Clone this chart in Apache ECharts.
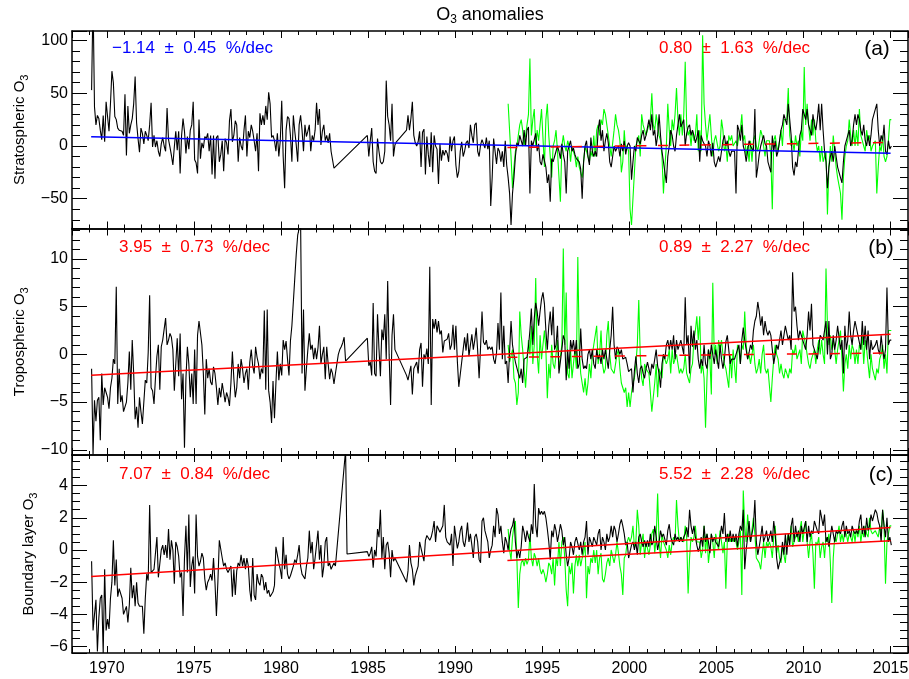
<!DOCTYPE html>
<html>
<head>
<meta charset="utf-8">
<title>O3 anomalies</title>
<script src="https://cdn.jsdelivr.net/npm/echarts@6.0.0/dist/echarts.min.js"></script>
<style>
    html, body { margin: 0; padding: 0; background: #fff; }
    #chart { width: 909px; height: 679px; }
</style>
</head>
<body>
<div id="chart"></div>
<script>
// 月距平数据：每行一年，12 个月
var N = null;
var blackStart = 1969;
var greenStart = 1993;

// (a) 平流层
var stratBlack = [
    [N, 53, 140, 37, 20, 29, 26, 15, 6, 29, 4, 42],
    [42, 14, 40, 71, 60, 28, 25, 17, 15, 14, 14, 10],
    [49, -9, 38, 12, 20, 26, 40, 66, 22, 7, -6, 17],
    [12, 2, 14, 10, 5, 20, 41, -1, 10, -1, 5, -5],
    [-10, 2, 8, 0, -5, 36, 6, -1, -9, -18, -1, 14],
    [-4, 14, -26, 10, 26, 14, -7, 9, -3, 15, 20, 42],
    [-13, -16, -26, 25, -12, 3, -2, 9, 7, 12, -5, 10],
    [-27, 10, -31, 8, 10, -15, -8, 5, -24, 7, 3, -8],
    [24, 35, 4, 10, 24, 20, -15, 8, 0, -4, 15, 29],
    [-10, 14, 8, 20, 14, 5, -5, 12, -24, 31, 20, 29],
    [20, 38, 25, 51, 40, 8, 10, 5, -5, 12, -10, 5],
    [43, -10, -40, 15, 28, 26, 10, -15, 29, 14, 1, -15],
    [20, 29, 15, -5, 20, 9, 14, 20, -5, 10, 5, 15],
    [41, 20, 35, 1, 14, 20, 5, 10, 3, 12, -5, -5],
    [-21, N, N, N, N, N, N, N, N, N, N, N],
    [N, N, N, N, N, N, N, N, N, N, N, 10],
    [-10, 5, 17, -15, -24, -26, 7, -5, -15, -17, -15, -5],
    [62, 28, 20, 5, 40, -10, 1, 4, N, N, N, N],
    [N, N, 15, 29, 15, 26, 42, 10, 3, 0, 4, 14],
    [-20, 13, 16, -27, 9, -8, -20, 13, -25, 10, 0, -3],
    [-36, 2, -14, -4, -9, -4, -7, -15, 9, -5, 5, 9],
    [-18, -30, -24, -5, 4, -10, -5, 3, 5, -2, 20, 10],
    [3, 20, 22, -5, -10, 1, 6, 5, -2, 8, -3, 5],
    [-57, -30, 7, -5, -17, -2, -5, -15, -5, -20, 5, -18],
    [-30, -45, -75, -45, -30, -10, 3, 0, 10, 5, 0, 15],
    [0, 15, 18, -45, 5, 0, 6, 12, -5, 2, -15, -18],
    [-8, -14, -20, -35, -27, -53, -12, -15, -10, -5, 0, -5],
    [-12, 2, -8, -15, -45, -5, 0, 5, -5, -2, -8, -12],
    [-12, -15, -22, -50, -15, 0, 5, -10, -18, 8, -5, -10],
    [-5, -10, 15, 25, 5, 15, -5, 5, 12, 3, -15, -20],
    [-20, 0, -5, -2, 0, -10, 2, -5, 5, -8, 0, 3],
    [0, -32, -15, 0, -5, 8, 5, 2, 10, 15, 5, 10],
    [10, 25, 15, 30, 10, 15, 0, 10, 30, 10, -5, -15],
    [-15, -35, -10, 0, 15, 10, 0, -5, 10, 20, 30, 18],
    [18, 25, 0, 12, 18, 20, 10, 15, 10, 3, 8, 15],
    [-15, 10, 5, 2, 0, -10, 5, 0, -10, 3, -15, -20],
    [-20, -10, -15, -5, 5, 10, 0, 5, -5, -10, -5, -5],
    [-5, -45, 20, 15, 5, 20, 0, -5, -15, -5, 5, 0],
    [0, -5, 35, -30, -20, -8, 0, 5, 10, 2, 0, -15],
    [-15, -25, 10, -5, 5, -10, -5, 5, 15, 20, 30, 25],
    [20, 40, 25, 10, -20, -28, -15, -20, -5, 10, 15, 35],
    [35, 25, 35, 20, 15, 10, 30, 20, 15, 25, 40, 15],
    [40, 15, -5, -15, -40, -20, -10, -5, -15, 0, -10, -20],
    [-20, -30, -35, -15, 0, 5, 10, 15, 0, 5, 20, 30],
    [20, 30, 25, 15, 10, 20, 5, 0, 10, 0, 10, 25],
    [25, 35, 40, 15, 0, 10, 5, 20, -5, -8, 5, -3],
    [0]
];
var stratGreen = [
    [40, 15, -10, -40, -20, -5, 0, 10, 20, 25, 15, 0],
    [0, 20, 30, 83, 10, 25, 35, 0, 15, 5, 20, 35],
    [35, -20, 25, 40, 10, -10, -30, 0, 5, 15, -5, -5],
    [-53, 0, 10, 0, -5, 5, 0, -15, 0, -5, -10, -20],
    [-10, -20, -25, -30, -15, 0, -5, -10, -15, -5, -10, 10],
    [-10, 15, 20, 10, 25, 20, 35, 30, 20, 10, 0, -10],
    [-10, 15, 30, 20, 15, 5, -25, -15, 15, -5, 0, -5],
    [-60, -75, -50, -25, 0, 5, 10, -10, 30, 20, 15, 10],
    [10, 20, 25, 50, 20, 15, 30, 20, 10, 5, -10, -45],
    [-20, 0, 40, 15, 0, 25, 15, 30, 55, 25, 10, 30],
    [10, 30, 80, 20, 10, 15, 0, 15, 5, 10, 30, -5],
    [15, -5, 105, 40, 20, 5, 5, 30, 10, -10, 5, 10],
    [10, -5, 0, 25, 15, -5, 0, -15, 10, 5, 10, 0],
    [0, 5, 0, 10, 15, 30, 5, 10, -10, 0, -15, 5],
    [-15, 5, 10, 0, -5, 5, 15, 10, 0, -10, 5, 5],
    [5, -10, -60, 5, 10, 0, -5, 5, 15, 0, 25, 25],
    [25, 55, 10, 0, 5, -5, 10, 0, 5, -10, 15, 5],
    [75, 20, 40, 20, 5, 25, 10, 25, 5, -5, 0, -15],
    [0, -15, -10, -5, -65, -20, 0, -15, 10, -5, -20, -30],
    [-30, -45, -70, -30, -10, 0, 5, 25, 10, 0, 15, 0],
    [15, 0, 35, 10, 5, 0, -5, 15, 5, 10, -5, 0],
    [0, 5, -45, -20, 0, -5, 10, -10, -15, -10, 5, 25],
    [25]
];

// (b) 对流层
var tropBlack = [
    [N, -1.5, -10.5, -4.8, -7, -4.8, -4.5, -9, -2, -5.3, -3.5, -4],
    [-4.5, -5.7, -3.5, -2.5, -0.5, -1, 7.1, -5.2, -1.5, -5, -4.3, -6],
    [-5.5, -5, -3, 0.3, -3.7, 1.5, -2, -6.8, -5.5, -7.7, -4.5, -6],
    [-7.3, -5, -2.7, -3, 0.2, 6.2, -3.5, -3.8, -5.2, -2.5, -0.2, 1],
    [-3.7, 0.8, 1.5, 1.3, 3.8, 1, 1.5, 2.2, 1.8, 0.5, -3.8, -1],
    [1.7, -2.3, 2.2, -4.7, -2, -9.8, -2.5, 0.8, -1, -4.5, -2, -5.2],
    [0.5, -5.2, 2, 3.5, 3.4, 1, -2, -6.3, -0.5, -2.5, -1.5, -2.9],
    [-3.2, -1.3, -2, -3.5, -5.3, -3.5, -4.5, -3, -4, -5, -4, -4.5],
    [-5.4, -3, 0.3, -2.5, -4.5, -3.5, -1, -2.5, -0.5, -1.5, -3, -2],
    [-1.5, -3.7, -0.8, 0.5, -1.2, -2, 0.8, -0.3, -1, -2.6, -1.5, -2],
    [4.6, -3.7, 4.7, -3.8, -5, -7.2, -2.8, -6.7, -3, 0.3, -2.7, -1],
    [-2.2, 1.5, 0.5, 1.4, -0.5, -2.2, 1.4, 3, 5.5, 8, 10.5, 12.5],
    [13.2, 14, -2, 4.7, -3.8, -1.5, 0.5, 2.2, 0.5, 1, -0.5, 0.7],
    [-0.5, 0.7, 3, -1, 0, 0.8, -2.6, 0.8, -1, -2.6, -1.5, -2],
    [-3.1, -2, -1, 0, 0.5, 0.8, 1.2, 1.8, -0.7, N, N, N],
    [N, N, N, N, N, N, N, N, N, N, N, 1.7],
    [-1.2, -0.8, -2.2, 5.4, -2, -2.3, 4.2, 0.6, -2.3, 2.6, 1.5, 4.2],
    [-0.5, 7.7, 0, -5.3, 2, 4.2, 0.5, N, N, N, N, N],
    [N, N, -2.2, -2.7, -2.5, -1.2, -4.2, -1.5, -1.3, -0.8, -2, 0.5],
    [1.2, -3.4, 0, -0.5, 0.6, -1, 9.2, -5.3, 3.7, 2.7, 3.7, 2.3],
    [3.5, 2.1, 2.5, 0.2, 1.4, 1.2, 1.6, 2.2, 0.5, 1, 3.1, 0.5],
    [3, -0.7, -3.4, -3.3, -0.8, 0.5, 1.8, 0.4, 2.2, -0.2, 1, 2.1],
    [0.5, 1.5, 2.8, 0.4, -2.5, 0.8, 4.5, 1.3, 1, 1.5, 0.5, 0.8],
    [0.5, 0.8, -0.5, -1, 0.2, 3.3, 0.5, 6.5, -0.5, 3, -1, -0.7],
    [-3, 0.3, 3.5, 1, 0, -0.8, -1, -2, -2.5, -1.5, -3, -0.5],
    [-0.5, -0.3, 0.8, 2.5, 4.8, 1, 3.8, 5.4, 4.5, 3, 4.5, 5.8],
    [6.5, 5.3, 2.5, 0.5, 3, 4.5, 2, 5, 0.5, 1, 3, -2],
    [-2, 0.5, 2, 1.5, -2.7, 0.5, -1.5, 1.5, 0.5, 1.5, 0, 1.5],
    [-1.5, -1, 2.7, -0.5, -1.5, -1.2, -1.5, 0, 0.5, -0.5, 0.5, -1],
    [-1.5, 0.5, -0.5, 0, -1, 0.5, -0.5, 0.5, -0.5, -1.5, 0.5, 2],
    [5, 1, -0.5, 0.8, 0.5, 0, 0.5, -0.5, -0.5, -0.3, -1, -1.8],
    [-1.8, -1.5, -4, -1.7, -0.2, -2, -3, -1.5, -1.2, -2, -2.5, -1.5],
    [-0.8, -1, -2.2, -1, -1.5, -0.5, 0.5, -1.2, -2, -3.5, -1, 0],
    [-0.5, 1, 1.5, 0.5, 1.5, 0.5, 2, -0.5, 1.5, 0.5, 1, 1.5],
    [1.5, 0, 6, 1, 2, -2, 3, 0.8, 2.5, 0.5, 1.5, -0.5],
    [-1.5, -0.5, -1.2, 1, -1, -1.5, 0.5, -0.5, 1, 0, -1, 0.5],
    [-0.5, -1.5, 1, -0.5, -1.5, -0.5, 1.3, 2, 0.5, -1, -0.5, -0.5],
    [-0.5, 0, 0.5, 1, -1, 1.5, 2.8, 1.5, 0.5, -0.5, 0.2, 1],
    [0.5, 2.5, 3.5, 4, 5.5, 4.5, 3, 4, 2, 3.5, 2.5, 2],
    [2.5, 2, 0.5, -1, 0, 1, 0.5, 1.5, 2.5, 1, 2, 3],
    [3, 1.5, 2, 0.5, 8.6, 4.5, 5, 3, 1.5, 2.5, 2, 1.5],
    [1, 0.5, 2, 4.5, 2.5, 5.3, 1, 0.5, 0.5, -0.5, 0.8, 2],
    [2, 1.5, 1.5, 3.5, 0, 3.5, -0.5, 0, 2, 0.5, 1.5, 3],
    [3, 0.5, 1.5, -2, 3, 0.5, 1.5, 4.5, 2, 1, 2.5, 3.5],
    [3.5, 2, 2, 0.5, 3.5, 1, 3, 0.5, 2.5, -0.5, 1.5, 0.5],
    [0.5, 1, 1.5, 0.5, 0, 2, 0.5, -0.5, 0.5, 7, 1, 1.5],
    [1.5]
];
var tropGreen = [
    [1, -0.8, -1, 0.5, -2.5, -3, -5.3, -4, 4.5, 2, 0.5, -1.5],
    [-3.5, -1, 1.5, 0, 3, -1, 1, 8, 0, -2, 2, -0.5],
    [-0.5, 2.5, 0.5, -4.6, -1, -2.5, 1, -1, -1.5, 0, 1.5, -1.5],
    [-1.5, 1, 11.1, 1, 6.5, -2, -2.5, 0.5, -2.5, -1, 0.5, -1.5],
    [10.2, 0.5, -2, -3, -4, -2.5, -4.3, -3, -1, -2.5, 0, 1],
    [1, 3, -1, 0, 2.5, -1, -2, -1.5, 2, 3.5, 0, -1.5],
    [-1.5, -2, -1, 0, 0.5, -1.5, -3, -3.5, -4, -3.5, -5.5, -4],
    [-5.5, -4, -3, -2.5, -1, 1, 5.7, 0, -2.5, -3.3, -1, -1.5],
    [-1.5, -2, -4, -6, -4.5, -3, -1, -4.5, -1.5, -2, -2.5, 0],
    [0, -1, -0.5, 0.5, -2, 0.5, -1, -0.5, 0, -1, -2, -1.5],
    [-2, -1.5, 0, -2, -2.5, -3, -1.5, -1, 1.5, 2.5, 4, 1.5],
    [4, -2, -1, -2.5, -7.7, -2.5, 0.5, -0.5, -4.2, 7.5, 0, 1],
    [-1, 1.5, 0.5, 1.5, 0, -1, -1.5, -1.5, -3.5, 0, -2.5, 0.5],
    [0.5, -3, 1, 0.5, -1, 1, 0.5, 4.5, 1, -0.5, 0, -1],
    [-1, 1, -1, -2, -1.5, -0.5, -2, 0, 1, -1.5, -2, -1.5],
    [-1.5, -5, -2.5, -0.5, 1, 0, -0.5, -2, -1, -2, -2.5, -1.5],
    [-2, -2.5, -1.5, -2, 0.5, 0, 1, -0.5, 0, 0.5, -1, 2.5],
    [2.5, 1, 0, -1, -1.5, -0.5, 0, 0.5, -1, 0.5, 1.5, 0],
    [1.5, 0, -1, 9, 3, 1, 2, 0.5, 1.5, 0.5, -1, 0.5],
    [0.5, 2.5, -0.5, -3.9, -1, 0, -1.5, 1, -0.5, 1, 0.5, -1],
    [0.5, -1, 1, 0.5, 2, -1, 1.5, 0.5, -1, -2.5, 0, -1.5],
    [-1.5, -2.7, -1.5, -2, -0.5, 0, 1, -1.5, 0, -2, 2.5, 2.5],
    [2.5]
];

// (c) 边界层
var blBlack = [
    [N, -0.7, -5, -4, -3.1, -6.3, -4.2, -3, -2.8, -6.4, -1.2, -5],
    [-4.3, -4.9, -3, -2, 0.6, -2.2, -0.6, -2.9, -2.4, -2.5, -3, -4],
    [-4, -3.5, -4.5, -3.4, -1.1, -3, -2.2, -3.5, -2, -3.3, -3.5, -3.5],
    [-3.5, -5.2, -3, -1.5, -1.9, 2.8, -1.4, -1.5, -1.2, -0.2, 0.8, -1.7],
    [-1.7, 0, 0.3, -0.3, 0.3, -0.5, 1.3, -0.6, 0.6, 0, -2.1, 0.5],
    [0.2, -0.4, -1.7, -1.4, -4.1, -0.5, 1.5, -1.4, 2.2, -2.3, -1, -0.4],
    [-2.7, 2.2, -0.4, -1, -0.7, -0.2, -0.5, -1.8, -2.5, -2, -1.8, -1.5],
    [-1.9, -0.5, -2, -4.1, -2, 0.6, 0.5, -0.5, -1, -0.8, -1.2, -1.4],
    [-1.5, -1, -2.9, -1.2, -2.8, -1.3, -0.8, -1, -0.3, -1, -0.5, -1.2],
    [-0.5, -1, -2.5, -3.2, -0.5, -2.8, -3.1, -1.5, -2, -2.2, -1.5, -1.7],
    [-2.5, -2, -2.7, -2.5, -2.9, -2.8, -2.6, -2.2, 0.2, -0.3, -0.8, -1.2],
    [-1.8, 0.8, -1.2, -0.3, -1.5, -1.8, -1.6, -1.5, -1, -0.6, -0.8, -0.3],
    [0.3, -1, -1.5, -1.4, -1.8, -1, -0.5, 1.2, -0.2, 0.5, -1.2, -0.5],
    [-0.5, 1.2, -0.6, 0.3, -1.7, -1, 0.5, 0.8, -1, -0.8, -1.2, -1],
    [-0.8, -1, N, N, N, N, N, N, 6.2, -0.25, N, N],
    [N, N, N, N, N, N, N, N, N, N, N, -0.1],
    [-0.4, -0.2, 0.2, -1.1, 0, -0.4, 1.3, 0.8, 2.5, -0.5, 0.8, -1.2],
    [0.3, 0.5, -0.2, -1.7, 0, -0.7, -0.5, N, N, N, N, N],
    [N, N, -2, -1.3, 0.3, -0.8, -1.2, -2.2, -1.6, -1.5, -1, 0.5],
    [0.4, -0.3, -0.7, 0.6, 0.9, 1, 0.6, 0.8, 1.2, 1.8, 0.5, 1.5],
    [1.5, 1.1, 1.2, 1.5, 2.8, 0.8, 0.5, 0.6, 0.3, 1, -1, 1.5],
    [0.8, 0.1, 0.5, 1.2, 1.5, 0.5, 0.2, 0.8, 1.7, 0.5, 1, 0.3],
    [-0.5, 0.8, 1, 0.5, -0.6, -0.8, 1.8, 2, 1.2, 1.3, 0.5, -0.5],
    [0, 0.3, 1.5, 0.8, 2.6, 2.2, 1, 1.5, 0.5, -0.2, 0.8, 0.5],
    [0, 0.8, 1.3, 1.5, 2, 0.5, -0.5, 0, -0.5, 0.2, 1.5, 1.1],
    [0.5, 1.2, 0.8, 0.5, 1.6, 1, 4.1, 1.5, 0.8, 2.6, 2.2, 2.4],
    [2.2, 2.4, 2, 1.3, 0.5, -0.6, 1.2, 0.8, 1.6, 1.2, 0.5, 1],
    [1.6, 1.2, 0.3, 0.8, -0.3, -1, -0.5, 0.5, 0.2, -0.3, 0.5, 0.8],
    [0.8, 0, 0.5, -0.3, 0.5, 0.8, 1.8, -0.3, 0.8, 0.5, 0.2, 0.8],
    [0.8, 0.3, 1, 1.3, 0, 0.8, 0.5, 0, 1, 0.5, 0.8, 1.5],
    [0.8, 1.5, 1.2, 0.5, 1, 1.6, 1.9, 1.5, 1, 0.3, 0.5, -0.5],
    [-0.5, 0.3, 0.5, 0, 0.5, -0.3, 0.8, 1, 0.5, 0.2, 0.6, 0.2],
    [0.6, 0.2, 1, 0.3, 0.5, 1.5, 0.8, 0, 0.5, 1.2, 0.8, 1],
    [1, 0.3, 1.2, 1.6, 0.8, 0.5, 0.3, 1, 0.6, 0.8, 0.5, 0.8],
    [0.5, 0.8, 1, 1.4, 0.8, 2.5, 1.5, 1, 1.5, 0.8, 0.3, -0.1],
    [0.2, 0.8, 0.2, 1.5, 0.5, 1, 0.5, -0.2, 1, 0.5, 0.8, 0.5],
    [0.5, 0.2, 0.8, 1.5, 1, 2.3, 0.5, 1, 0.5, 1.2, 0.5, 1],
    [0.5, 1, 0.2, 1, 1.5, 1.2, 2.5, -1.2, 0, 0.8, 1.8, 0.5],
    [1, 1.5, 3.1, 0.5, -0.3, 0.2, 0.8, 1.5, 0.5, 0.8, 1.2, 0.5],
    [0.8, 1.2, 0.5, 1.8, 1, -0.5, -1.2, -0.8, -0.5, 0.5, -0.3, 1],
    [-0.3, 1, 0.3, 1.5, 2, 0.5, 1.5, 0.8, 1.2, 0.5, 1.5, 1],
    [1, 1.8, 0.5, 1.5, 0.8, 1.2, 1, 1.8, 1.5, 1.2, 1, 2.5],
    [2.5, 1.5, 2.2, 0.5, 0.8, 0.2, 0.8, 1.5, 1, 0.5, 1.2, 1],
    [1.2, 1, 1.5, 1.8, 0.8, 1.5, 1, 1.2, 0.8, 1.5, 1.2, 1],
    [1.2, 1, 1.8, 2.2, 1, 1.5, 0.8, 2, 1.2, 1.5, 2.2, 1.8],
    [1.8, 2.5, 2.3, 1.8, 1.5, 0.5, 2.5, 1.5, 0.8, 2, 0.5, 0.8],
    [0.3]
];
var blGreen = [
    [1.3, 0, -0.6, 0.8, 1.5, 1.8, -0.5, -3.6, -1.5, -0.8, -0.6, -1],
    [-0.5, -0.9, -0.6, 1, -0.5, -1, -0.2, -0.5, -1, -0.5, -1.2, -1.5],
    [-1.2, -1.5, -2, -1.5, -0.8, -1, -1.5, -0.5, -2.2, -0.5, -1, 0.5],
    [-1, 0.5, 0.8, -0.5, -2.5, -3.5, -1, -1.5, -0.8, -2.7, -1, -0.3],
    [-1, -0.3, -1, -0.5, -0.2, 0.5, -3, -1, -1.5, -0.5, -0.8, 0],
    [-0.8, 0, -1.5, -0.5, -0.2, -1.8, -2, -1.5, -0.8, -0.5, -1, 0],
    [0, -0.8, -0.3, 0.5, -0.2, -1, -1.5, -2.8, -0.5, -0.3, 0.5, 0.8],
    [0.5, 0.8, 1.5, 0.2, 0.5, 2.5, 1.5, -0.3, 0.5, 1, -0.5, 0.5],
    [0.5, -0.3, 0.3, 1, 1.3, -0.2, 0.8, 3.5, 0.5, -0.5, 1, 0.5],
    [0.5, 0, -0.5, 0.3, -0.3, 0.5, 0.8, 0.5, 3.1, 1.5, 0.5, 0.8],
    [0.8, 0.5, 1.5, 0.8, -2.7, -0.5, 0.8, 0.5, 0.8, 1.5, 0.5, 0.5],
    [0.5, -0.5, 0, 1.5, -0.2, 1, -0.8, 0, 1, 0.5, -0.5, 1],
    [1, 0, 1.2, 0.5, -0.2, 0.5, -2.4, 0.5, 1, 0.5, 0.8, 0.5],
    [0.8, 0.5, 0, 0.5, 1.2, -2.8, 3.7, 1.5, 0.5, 2.2, 1, 0.5],
    [0.5, 2, 1, -0.5, -0.5, -0.8, -1.2, -0.3, 0.5, -0.5, 0.5, 0.2],
    [0.5, 0.2, -0.5, 0.8, 1.5, -0.2, 0.3, -0.5, -0.8, 0.2, -0.3, -0.8],
    [0.5, 1, 0.5, 1.5, 0.2, 0.5, 0.8, 1, 0.5, 1.2, 1.8, 0.5],
    [1.2, 1.8, 0.5, -0.5, 0.5, 1, -0.2, -2.4, 0.5, 0.3, 0.8, -0.5],
    [0.2, 0.5, -0.5, 0.8, 0.5, 1, -0.8, -3.3, -0.5, 0.8, 0.5, 1],
    [1.5, 0.5, 1, 0.5, 1.2, 1, 0.5, 1, 0.8, 0.5, 1.2, 0.5],
    [1.3, 0.8, 1.5, 0.5, 1.2, 0.8, 1.5, 1, 0.8, 2, 1.2, 1],
    [1, 1.2, 1, 0.8, 1.5, 1, 2.5, 1.5, -2.1, 0.5, 1, 1.5],
    [1.5]
];

// 线性趋势线端点
var blackTrendYears = [1969.1, 2015.0];
var greenTrendYears = [1993.0, 2015.0];
var stratTrend = [8.8, -7.0], stratGreenTrend = [-1.5, 3.4];
var tropTrend = [-2.2, 2.1], tropGreenTrend = [-0.3, 0.15];
var blTrend = [-1.65, 1.4], blGreenTrend = [-0.66, 0.58];

// 趋势文字
var trendLabels = [
    ["\u22121.14  \u00b1  0.45  %/dec", "0.80  \u00b1  1.63  %/dec", "(a)"],
    ["3.95  \u00b1  0.73  %/dec", "0.89  \u00b1  2.27  %/dec", "(b)"],
    ["7.07  \u00b1  0.84  %/dec", "5.52  \u00b1  2.28  %/dec", "(c)"]
];
var yTitles = ["Stratospheric O", "Tropospheric O", "Boundary layer O"];

var FONT = "Liberation Sans";

function toPoints(rows, startYear) {
    var pts = [];
    rows.forEach(function (row, i) {
        row.forEach(function (v, m) {
            pts.push([startYear + i + (m + 0.5) / 12, v]);
        });
    });
    return pts;
}

function trendPoints(years, vals) {
    return [[years[0], vals[0]], [years[1], vals[1]]];
}

var panels = [
    {top: 31, height: 197.5, min: -78.3, max: 109.1, split: 4, minor: 5,
        black: stratBlack, green: stratGreen, tb: stratTrend, tg: stratGreenTrend,
        tbColor: "#0000ff", tgDash: true, textY: 48.5, leftX: 112, leftColor: "#0000ff", tagX: 877, titleX: 20},
    {top: 228.5, height: 226.5, min: -10.55, max: 13.2, split: 4, minor: 5,
        black: tropBlack, green: tropGreen, tb: tropTrend, tg: tropGreenTrend,
        tbColor: "#ff0000", tgDash: true, textY: 247, leftX: 119, leftColor: "#ff0000", tagX: 881, titleX: 20},
    {top: 455, height: 198, min: -6.4, max: 5.9, split: 6, minor: 4,
        black: blBlack, green: blGreen, tb: blTrend, tg: blGreenTrend,
        tbColor: "#ff0000", tgDash: false, textY: 474, leftX: 119, leftColor: "#ff0000", tagX: 881, titleX: 29}
];

var axisLineStyle = {color: "#000", width: 1.5};
var tickStyle = {color: "#000", width: 1};

function minusFmt(v) {
    return String(v).replace("-", "\u2212");
}

function yearFmt(v) {
    return String(Math.round(v));
}

var grids = [], xAxes = [], yAxes = [], series = [], graphics = [];

panels.forEach(function (p, i) {
    grids.push({left: 72, right: 1, top: p.top, height: p.height, containLabel: false, outerBoundsMode: "none"});
    ["bottom", "top"].forEach(function (pos) {
        xAxes.push({
            type: "value", gridIndex: i, position: pos, min: 1968, max: 2016, splitNumber: 10,
            axisLine: {show: true, onZero: false, lineStyle: axisLineStyle},
            axisTick: {show: true, inside: true, length: 7, lineStyle: tickStyle},
            minorTick: {show: true, splitNumber: 5, length: 4, lineStyle: tickStyle},
            splitLine: {show: false},
            axisLabel: {
                show: (i === 2 && pos === "bottom"), showMinLabel: false, showMaxLabel: false,
                color: "#000", fontFamily: FONT, fontSize: 16, margin: 8, formatter: yearFmt
            }
        });
    });
    ["left", "right"].forEach(function (pos) {
        yAxes.push({
            type: "value", gridIndex: i, position: pos, min: p.min, max: p.max, splitNumber: p.split,
            axisLine: {show: true, onZero: false, lineStyle: axisLineStyle},
            axisTick: {show: true, inside: true, length: 15, lineStyle: tickStyle},
            minorTick: {show: true, splitNumber: p.minor, length: 8, lineStyle: tickStyle},
            splitLine: {show: false},
            axisLabel: {
                show: pos === "left", showMinLabel: false, showMaxLabel: false,
                color: "#000", fontFamily: FONT, fontSize: 16, margin: 4, formatter: minusFmt
            }
        });
    });

    var xi = i * 2, yi = i * 2;
    series.push({
        type: "line", xAxisIndex: xi, yAxisIndex: yi, data: toPoints(p.green, greenStart),
        showSymbol: false, connectNulls: true, z: 2,
        lineStyle: {color: "#00ff00", width: 1.1}, itemStyle: {color: "#00ff00"}
    });
    series.push({
        type: "line", xAxisIndex: xi, yAxisIndex: yi, data: toPoints(p.black, blackStart),
        showSymbol: false, connectNulls: true, z: 3,
        lineStyle: {color: "#000", width: 1.1}, itemStyle: {color: "#000"}
    });
    series.push({
        type: "line", xAxisIndex: xi, yAxisIndex: yi, data: trendPoints(blackTrendYears, p.tb),
        showSymbol: false, z: 4,
        lineStyle: {color: p.tbColor, width: 1.5}, itemStyle: {color: p.tbColor}
    });
    series.push({
        type: "line", xAxisIndex: xi, yAxisIndex: yi, data: trendPoints(greenTrendYears, p.tg),
        showSymbol: false, z: 4,
        lineStyle: {color: "#ff0000", width: 1.5, type: p.tgDash ? [10, 11.5] : "solid"},
        itemStyle: {color: "#ff0000"}
    });

    var lab = trendLabels[i];
    graphics.push({
        type: "text", x: p.leftX, y: p.textY,
        style: {text: lab[0], fill: p.leftColor, fontFamily: FONT, fontSize: 17,
            align: "left", verticalAlign: "middle", textAlign: "left", textVerticalAlign: "middle"}
    });
    graphics.push({
        type: "text", x: 659, y: p.textY,
        style: {text: lab[1], fill: "#ff0000", fontFamily: FONT, fontSize: 17,
            align: "left", verticalAlign: "middle", textAlign: "left", textVerticalAlign: "middle"}
    });
    graphics.push({
        type: "text", x: p.tagX, y: p.textY + 1,
        style: {text: lab[2], fill: "#000", fontFamily: FONT, fontSize: 21,
            align: "center", verticalAlign: "middle", textAlign: "center", textVerticalAlign: "middle"}
    });
    graphics.push({
        type: "text", x: p.titleX, y: p.top + p.height / 2, rotation: Math.PI / 2,
        style: {
            text: "{n|" + yTitles[i] + "}{s|3}", fill: "#000",
            align: "center", verticalAlign: "middle", textAlign: "center", textVerticalAlign: "middle",
            rich: {
                n: {fontFamily: FONT, fontSize: 15, lineHeight: 20, verticalAlign: "middle"},
                s: {fontFamily: FONT, fontSize: 11, lineHeight: 11, verticalAlign: "bottom"}
            }
        }
    });
});

// 总标题
graphics.push({
    type: "text", x: 490, y: 15,
    style: {
        text: "{n|O}{s|3}{n| anomalies}", fill: "#000",
        align: "center", verticalAlign: "middle", textAlign: "center", textVerticalAlign: "middle",
        rich: {
            n: {fontFamily: FONT, fontSize: 18, lineHeight: 22, verticalAlign: "middle"},
            s: {fontFamily: FONT, fontSize: 12, lineHeight: 12, verticalAlign: "bottom"}
        }
    }
});

var myChart = echarts.init(document.getElementById("chart"), null, {renderer: "canvas"});
myChart.setOption({
    animation: false,
    backgroundColor: "#fff",
    grid: grids,
    xAxis: xAxes,
    yAxis: yAxes,
    series: series,
    graphic: graphics
});
window.addEventListener("resize", function () {
    myChart.resize();
});
</script>
</body>
</html>
